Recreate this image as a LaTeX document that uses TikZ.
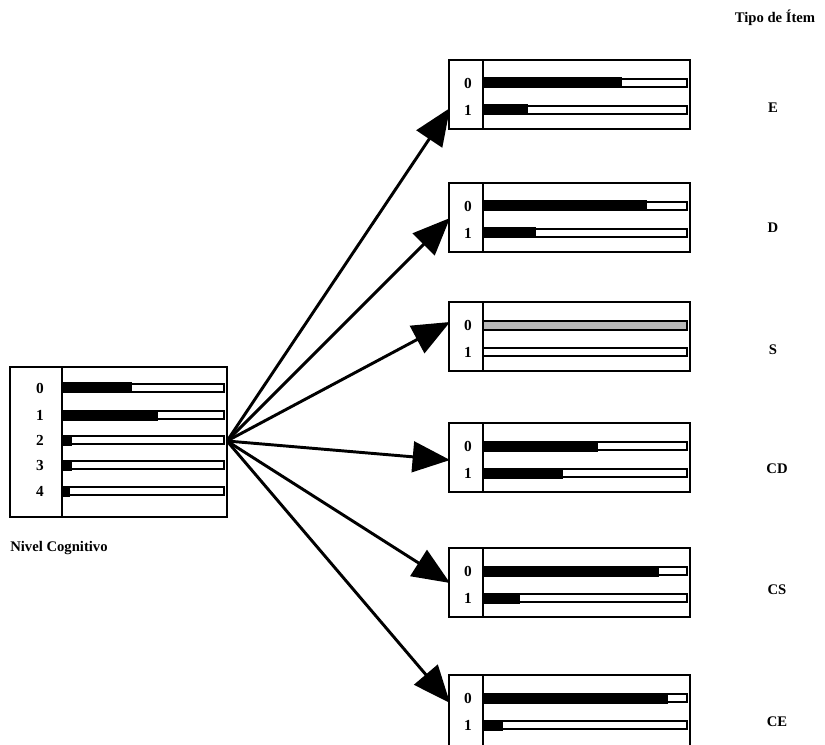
\documentclass[tikz,border=0pt]{standalone}
\usepackage{fontspec}
\setmainfont{Liberation Serif}
\usetikzlibrary{arrows.meta}
\tikzset{
  panel/.style={draw, line width=1.8pt, anchor=north west, inner sep=0pt, outer sep=0pt},
  divider/.style={line width=1.8pt},
  barbox/.style={draw, line width=1.6pt, fill=white},
  barfill/.style={fill=black},
  hatch/.style={draw, line width=1.6pt, fill=gray!55},
  conn/.style={line width=2.2pt, -{Triangle[length=28pt, width=23pt]}},
  lab/.style={font=\bfseries\fontsize{11}{13}\selectfont, inner sep=0pt},
  dig/.style={font=\bfseries\fontsize{11.5}{13}\selectfont, inner sep=0pt},
}
% bar: y, xstart, xblack, xend
\newcommand{\mybar}[4]{%
  \draw[barbox] (#2,#1-4) rectangle (#4,#1+4);
  \fill[barfill] (#2,#1-5.5) rectangle (#3,#1+5.5);}
\begin{document}
\begin{tikzpicture}[x=0.75pt,y=-0.75pt]
\useasboundingbox (0,0) rectangle (825,745);
\clip (0,0) rectangle (825,745);

% left panel
\node[panel, minimum width=162.75pt, minimum height=112.5pt] (L) at (10,367) {};
\draw[divider] (62,367) -- (62,517);
\foreach \y/\b/\d in {388/132/0, 415/158/1, 440/72/2, 465/72/3, 491/70/4}{
  \mybar{\y}{62}{\b}{224}
  \node[dig] (Ld\d) at (40,\y) {\d};
}
\node[lab, anchor=west] (nc) at (10,548) {Nivel Cognitivo};

% right panels
\foreach \n/\t/\h/\ba/\bb in {E/60/69/622/528, D/183/69/647/536, CD/423/69/598/563, CS/548/69/659/520, CE/675/80/668/503}{
  \node[panel, minimum width=180.75pt, minimum height=\h*0.75pt] (\n) at (449,\t) {};
  \draw[divider] (483,\t) -- (483,\t+\h);
  \mybar{\t+23}{483}{\ba}{687}
  \mybar{\t+50}{483}{\bb}{687}
  \node[dig] (\n0) at (468,\t+23) {0};
  \node[dig] (\n1) at (468,\t+50) {1};
}
% S panel
\node[panel, minimum width=180.75pt, minimum height=51.75pt] (S) at (449,302) {};
\draw[divider] (483,302) -- (483,371);
\draw[hatch] (483,321) rectangle (687,330);
\draw[barbox] (483,348) rectangle (687,356);
\node[dig] (S0) at (468,325) {0};
\node[dig] (S1) at (468,352) {1};

% labels
\node[lab] (tipo) at (775,18) {Tipo de Ítem};
\node[lab] (lE) at (773,108) {E};
\node[lab] (lD) at (773,228) {D};
\node[lab] (lS) at (773,350) {S};
\node[lab] (lCD) at (777,469) {CD};
\node[lab] (lCS) at (777,590) {CS};
\node[lab] (lCE) at (777,722) {CE};

% connectors
\coordinate (src) at (227,441);
\coordinate (tE) at (450,108);
\coordinate (tD) at (450,218);
\coordinate (tS) at (450,322);
\coordinate (tCD) at (450,460);
\coordinate (tCS) at (450,583);
\coordinate (tCE) at (450,703);
\foreach \t in {tE,tD,tS,tCD,tCS,tCE}{
  \draw[conn] (src) -- (\t);
}
\end{tikzpicture}
\end{document}
